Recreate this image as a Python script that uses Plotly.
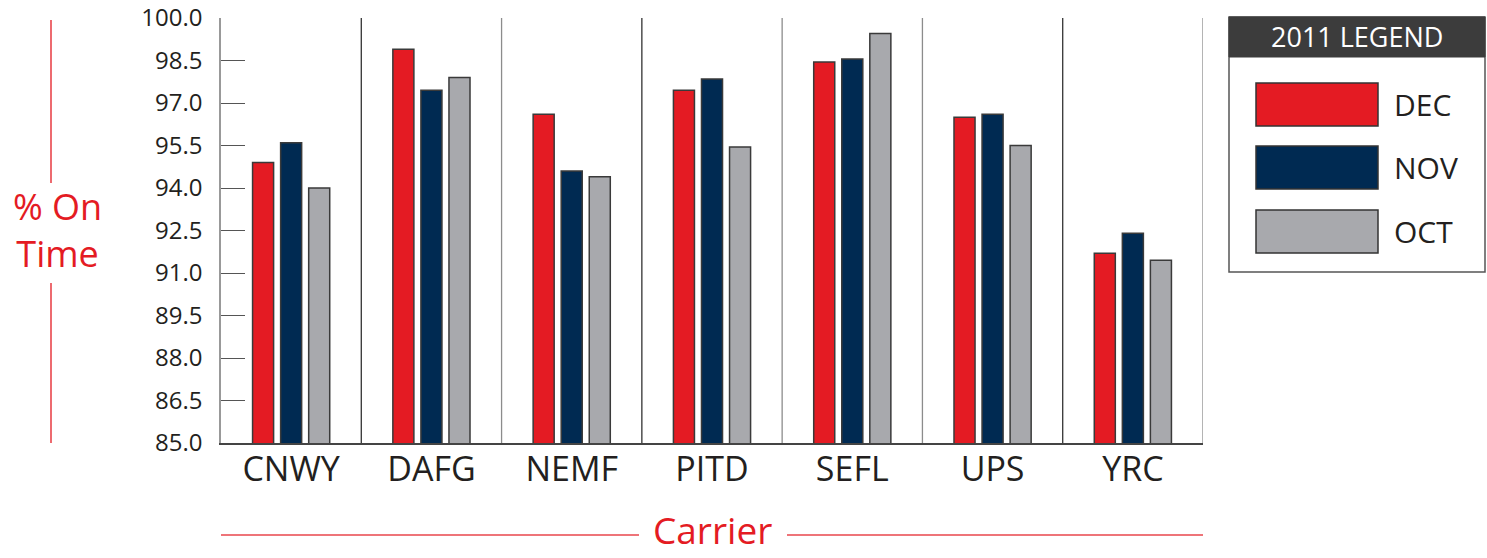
import plotly.graph_objects as go

# ---- data ----
carriers = ["CNWY", "DAFG", "NEMF", "PITD", "SEFL", "UPS", "YRC"]
dec_vals = [94.9, 98.9, 96.6, 97.45, 98.45, 96.5, 91.7]
nov_vals = [95.6, 97.45, 94.6, 97.85, 98.55, 96.6, 92.4]
oct_vals = [94.0, 97.9, 94.4, 95.45, 99.45, 95.5, 91.45]
series_names = ["DEC", "NOV", "OCT"]
series_values = [dec_vals, nov_vals, oct_vals]
series_colors = ["#E41B23", "#002A52", "#A8A9AD"]
y_tick_vals = [85.0, 86.5, 88.0, 89.5, 91.0, 92.5, 94.0, 95.5, 97.0, 98.5, 100.0]
legend_title = "2011 LEGEND"
y_title = "% On<br>Time"
x_title = "Carrier"

# ---- layout geometry (pixels) ----
W, H = 1487, 558
L, R, T, B = 221, 1203, 18, 443
FONT = "Open Sans"
TXT = "#231F20"
RED = "#E41B23"


def px_x(px):
    return (px - L) / (R - L)


def px_y(py):
    return (B - py) / (B - T)


fig = go.Figure()
for name, vals, col in zip(series_names, series_values, series_colors):
    fig.add_trace(go.Bar(
        x=carriers, y=vals, name=name,
        marker=dict(color=col, line=dict(color="#3A3A3A", width=1.5)),
        showlegend=False,
    ))

shapes = []
# category separators
sep_colors = ["#333333", "#8C8C8C", "#333333", "#8C8C8C", "#8C8C8C", "#333333", "#8C8C8C"]
for i in range(len(carriers)):
    shapes.append(dict(type="line", xref="x", yref="paper",
                       x0=i + 0.5, x1=i + 0.5, y0=0, y1=1,
                       line=dict(color=sep_colors[i % len(sep_colors)], width=1.3),
                       layer="below"))

# red title lines
shapes.append(dict(type="line", xref="paper", yref="paper",
                   x0=px_x(51), x1=px_x(51), y0=px_y(20), y1=px_y(183),
                   line=dict(color=RED, width=1.3)))
shapes.append(dict(type="line", xref="paper", yref="paper",
                   x0=px_x(51), x1=px_x(51), y0=px_y(283), y1=px_y(443),
                   line=dict(color=RED, width=1.3)))
shapes.append(dict(type="line", xref="paper", yref="paper",
                   x0=px_x(221), x1=px_x(639), y0=px_y(535), y1=px_y(535),
                   line=dict(color="#E8464C", width=1.5)))
shapes.append(dict(type="line", xref="paper", yref="paper",
                   x0=px_x(787), x1=px_x(1203), y0=px_y(535), y1=px_y(535),
                   line=dict(color="#E8464C", width=1.5)))

# legend box
shapes.append(dict(type="rect", xref="paper", yref="paper",
                   x0=px_x(1229), x1=px_x(1485), y0=px_y(272), y1=px_y(17),
                   line=dict(color="#555555", width=1.5), fillcolor="white"))
shapes.append(dict(type="rect", xref="paper", yref="paper",
                   x0=px_x(1229), x1=px_x(1485), y0=px_y(57), y1=px_y(17),
                   line=dict(color="#3C3C3C", width=1), fillcolor="#3C3C3C"))
annotations = [dict(text=legend_title, xref="paper", yref="paper",
                    x=px_x(1357), y=px_y(37), xanchor="center", yanchor="middle",
                    showarrow=False, font=dict(family=FONT, size=27, color="white"))]
sw_top = [83, 146, 210]
for i, (name, col) in enumerate(zip(series_names, series_colors)):
    y0, y1 = sw_top[i], sw_top[i] + 43
    shapes.append(dict(type="rect", xref="paper", yref="paper",
                       x0=px_x(1256), x1=px_x(1378), y0=px_y(y1), y1=px_y(y0),
                       line=dict(color="#333333", width=1.5), fillcolor=col))
    annotations.append(dict(text=name, xref="paper", yref="paper",
                            x=px_x(1392), y=px_y((y0 + y1) / 2), xanchor="left", yanchor="middle",
                            showarrow=False, font=dict(family=FONT, size=30, color=TXT)))

# axis titles
annotations.append(dict(text=y_title, xref="paper", yref="paper",
                        x=px_x(57), y=px_y(230), xanchor="center", yanchor="middle",
                        showarrow=False, font=dict(family=FONT, size=36, color=RED)))
annotations.append(dict(text=x_title, xref="paper", yref="paper",
                        x=px_x(712), y=px_y(557), xanchor="center", yanchor="bottom",
                        showarrow=False, font=dict(family=FONT, size=37, color=RED)))

fig.update_layout(
    width=W, height=H,
    margin=dict(l=L, r=W - R, t=T, b=H - B, pad=0, autoexpand=False),
    paper_bgcolor="white", plot_bgcolor="white",
    barmode="group", bargap=0.4, bargroupgap=0.25,
    shapes=shapes, annotations=annotations,
    showlegend=False,
    font=dict(family=FONT, color=TXT),
)
fig.update_xaxes(
    type="category", showgrid=False, ticks="", automargin=False,
    showline=True, linecolor="#444444", linewidth=2,
    tickfont=dict(family=FONT, size=34, color=TXT),
    range=[-0.5, len(carriers) - 0.5],
    ticklabelstandoff=-5,
)
fig.update_yaxes(
    range=[85, 100], tickvals=y_tick_vals, tickformat=".1f", automargin=False,
    showgrid=False, zeroline=False,
    ticks="inside", ticklen=24, tickwidth=1.3, tickcolor="#555555",
    showline=True, linecolor="#999999", linewidth=1.5,
    tickfont=dict(family=FONT, size=24, color=TXT),
    ticklabelstandoff=12,
)

fig.write_html("out.html")
